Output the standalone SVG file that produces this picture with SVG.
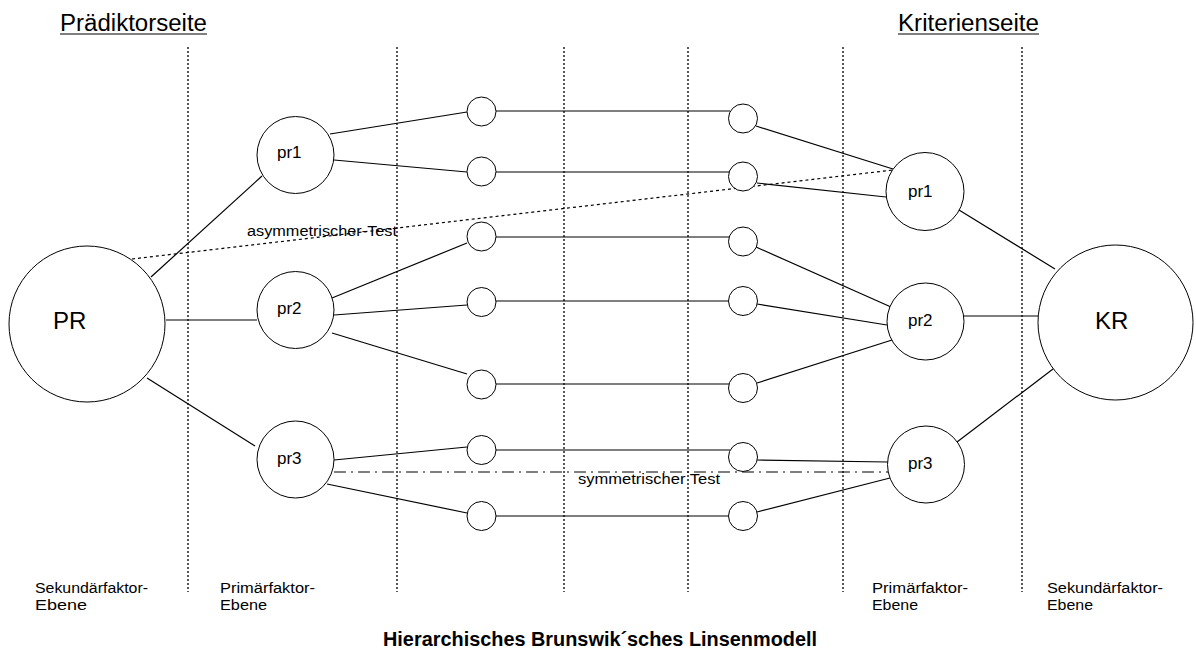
<svg xmlns="http://www.w3.org/2000/svg" width="1196" height="654" viewBox="0 0 1196 654">
<style>
.n{fill:#fff;stroke:#000;stroke-width:1}
.c{stroke:#000;stroke-width:1.2;fill:none}
.v{stroke:#000;stroke-width:1.3;stroke-dasharray:2,2;fill:none}
.t{font-family:"Liberation Sans",Arial,sans-serif;fill:#000}
</style>
<rect width="1196" height="654" fill="#fff"/>
<g id="dividers">
<line class="v" x1="188" y1="47" x2="188" y2="592"/>
<line class="v" x1="397" y1="47" x2="397" y2="592"/>
<line class="v" x1="564" y1="47" x2="564" y2="592"/>
<line class="v" x1="688" y1="47" x2="688" y2="592"/>
<line class="v" x1="843" y1="47" x2="843" y2="592"/>
<line class="v" x1="1022" y1="47" x2="1022" y2="592"/>
</g>
<g id="connectors">
<line class="c" x1="151" y1="277" x2="262" y2="176"/>
<line class="c" x1="166" y1="320" x2="257" y2="320"/>
<line class="c" x1="147" y1="378" x2="255" y2="446"/>
<line class="c" x1="330" y1="134" x2="467" y2="112"/>
<line class="c" x1="334" y1="160" x2="467" y2="172"/>
<line class="c" x1="332" y1="298" x2="467" y2="243"/>
<line class="c" x1="334" y1="315" x2="467" y2="305"/>
<line class="c" x1="332" y1="333" x2="467" y2="374"/>
<line class="c" x1="334" y1="460" x2="467" y2="447"/>
<line class="c" x1="327" y1="484" x2="467" y2="513"/>
<line class="c" x1="496" y1="111" x2="730" y2="111"/>
<line class="c" x1="496" y1="172" x2="729" y2="172"/>
<line class="c" x1="496" y1="237" x2="729" y2="237"/>
<line class="c" x1="496" y1="301" x2="728" y2="301"/>
<line class="c" x1="496" y1="384" x2="729" y2="384"/>
<line class="c" x1="496" y1="450" x2="730" y2="450"/>
<line class="c" x1="496" y1="516" x2="728" y2="516"/>
<line class="c" x1="756" y1="126" x2="893" y2="169"/>
<line class="c" x1="757" y1="183" x2="886" y2="197"/>
<line class="c" x1="756" y1="247" x2="891" y2="307"/>
<line class="c" x1="757" y1="304" x2="887" y2="325"/>
<line class="c" x1="757" y1="383" x2="892" y2="340"/>
<line class="c" x1="757" y1="460" x2="888" y2="462"/>
<line class="c" x1="757" y1="512" x2="890" y2="478"/>
<line class="c" x1="959" y1="210" x2="1055" y2="269"/>
<line class="c" x1="964" y1="316" x2="1038" y2="316"/>
<line class="c" x1="957" y1="442" x2="1053" y2="369"/>
<line class="c" x1="132" y1="259" x2="893" y2="170" stroke-dasharray="3,3"/>
<line class="c" x1="334" y1="472" x2="889" y2="472" stroke-dasharray="12,5,2,5"/>
</g>
<g id="PR"><circle class="n" cx="87" cy="324" r="78"/><text class="t" x="53" y="329" font-size="24">PR</text></g>
<g id="pr1L"><circle class="n" cx="295.5" cy="155" r="38.5"/><text class="t" x="277" y="158" font-size="17">pr1</text></g>
<g id="pr2L"><circle class="n" cx="295.5" cy="310" r="38.5"/><text class="t" x="277" y="314" font-size="17">pr2</text></g>
<g id="pr3L"><circle class="n" cx="295.5" cy="459.5" r="38.5"/><text class="t" x="277" y="464" font-size="17">pr3</text></g>
<g id="L1"><circle class="n" cx="481.5" cy="111.5" r="14.5"/></g>
<g id="L2"><circle class="n" cx="481.5" cy="171.5" r="14.5"/></g>
<g id="L3"><circle class="n" cx="481.5" cy="236.5" r="14.5"/></g>
<g id="L4"><circle class="n" cx="481.5" cy="302" r="14.5"/></g>
<g id="L5"><circle class="n" cx="481.5" cy="384.5" r="14.5"/></g>
<g id="L6"><circle class="n" cx="481.5" cy="450" r="14.5"/></g>
<g id="L7"><circle class="n" cx="481.5" cy="516" r="14.5"/></g>
<g id="R1"><circle class="n" cx="743" cy="118.5" r="14.5"/></g>
<g id="R2"><circle class="n" cx="743" cy="176.5" r="14.5"/></g>
<g id="R3"><circle class="n" cx="743" cy="241.5" r="14.5"/></g>
<g id="R4"><circle class="n" cx="743" cy="301" r="14.5"/></g>
<g id="R5"><circle class="n" cx="743" cy="388" r="14.5"/></g>
<g id="R6"><circle class="n" cx="743" cy="457" r="14.5"/></g>
<g id="R7"><circle class="n" cx="743" cy="516" r="14.5"/></g>
<g id="pr1R"><circle class="n" cx="925" cy="191.5" r="39"/><text class="t" x="908" y="197" font-size="17">pr1</text></g>
<g id="pr2R"><circle class="n" cx="925.5" cy="321.5" r="38.5"/><text class="t" x="908" y="326" font-size="17">pr2</text></g>
<g id="pr3R"><circle class="n" cx="926" cy="464.5" r="38.5"/><text class="t" x="908" y="469" font-size="17">pr3</text></g>
<g id="KR"><circle class="n" cx="1115.5" cy="322.5" r="77.5"/><text class="t" x="1095" y="329" font-size="24">KR</text></g>
<g id="labels">
<text class="t" x="60" y="31" font-size="23" textLength="147" lengthAdjust="spacingAndGlyphs">Prädiktorseite</text>
<line x1="60" y1="34" x2="207" y2="34" stroke="#000" stroke-width="1"/>
<text class="t" x="898" y="31" font-size="23" textLength="141" lengthAdjust="spacingAndGlyphs">Kriterienseite</text>
<line x1="898" y1="34" x2="1039" y2="34" stroke="#000" stroke-width="1"/>
<text class="t" x="247" y="236" font-size="14" textLength="150" lengthAdjust="spacingAndGlyphs">asymmetrischer-Test</text>
<text class="t" x="578" y="484" font-size="14" textLength="142" lengthAdjust="spacingAndGlyphs">symmetrischer Test</text>
<text class="t" x="35" y="593" font-size="14" textLength="113" lengthAdjust="spacingAndGlyphs">Sekundärfaktor-</text>
<text class="t" x="35" y="610" font-size="14" textLength="52" lengthAdjust="spacingAndGlyphs">Ebene</text>
<text class="t" x="220" y="593" font-size="14" textLength="95" lengthAdjust="spacingAndGlyphs">Primärfaktor-</text>
<text class="t" x="220" y="610" font-size="14" textLength="47" lengthAdjust="spacingAndGlyphs">Ebene</text>
<text class="t" x="872" y="593" font-size="14" textLength="96" lengthAdjust="spacingAndGlyphs">Primärfaktor-</text>
<text class="t" x="872" y="610" font-size="14" textLength="46" lengthAdjust="spacingAndGlyphs">Ebene</text>
<text class="t" x="1047" y="593" font-size="14" textLength="116" lengthAdjust="spacingAndGlyphs">Sekundärfaktor-</text>
<text class="t" x="1047" y="610" font-size="14" textLength="46" lengthAdjust="spacingAndGlyphs">Ebene</text>
<text class="t" x="383" y="646" font-size="20" font-weight="bold" textLength="434" lengthAdjust="spacingAndGlyphs">Hierarchisches Brunswik´sches Linsenmodell</text>
</g>
</svg>
